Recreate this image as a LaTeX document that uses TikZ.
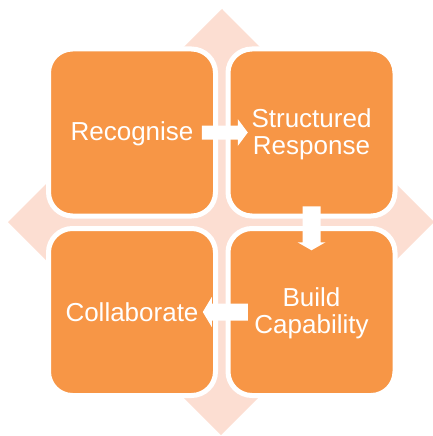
\documentclass[tikz,border=0pt]{standalone}
\usepackage{fontspec}
\setmainfont{Liberation Sans}
\usetikzlibrary{calc}
\definecolor{boxorange}{RGB}{247,150,70}
\definecolor{diamondpink}{RGB}{252,222,210}
\begin{document}
\begin{tikzpicture}[x=1pt,y=-1pt,
  quad/.style={draw=white, line width=5pt, fill=boxorange, rounded corners=24pt,
    minimum size=167pt, inner sep=0pt, text=white, align=center,
    font=\fontsize{26}{27}\selectfont},
  blockarrow/.style={fill=white}]
\useasboundingbox (0,0) rectangle (433,436);
\fill[diamondpink] (222,9) -- (434,222) -- (221,435) -- (8,222) -- cycle;
\node[quad] (rec) at (132,132.5) {\rule{0pt}{21pt}Recognise};
\node[quad] (str) at (311.5,132.5) {\rule{0pt}{23pt}Structured\\Response};
\node[quad] (bld) at (311.5,312) {\rule{0pt}{22pt}Build\\Capability};
\node[quad] (col) at (132,312) {Collaborate};
\coordinate (a1) at ($(rec.center)!0.5!(str.center)$);
\coordinate (a2) at ($(str.center)!0.5!(bld.center)$);
\coordinate (a3) at ($(bld.center)!0.5!(col.center)$);
\fill[blockarrow] ($(a1)+(-20,-7)$) -- ($(a1)+(16,-7)$) -- ($(a1)+(16,-13.5)$) -- ($(a1)+(26,0)$)
  -- ($(a1)+(16,13.5)$) -- ($(a1)+(16,7)$) -- ($(a1)+(-20,7)$) -- cycle;
\fill[blockarrow] ($(a2)+(-9,-16)$) -- ($(a2)+(-9,20)$) -- ($(a2)+(-14,20)$) -- ($(a2)+(0,28)$)
  -- ($(a2)+(14,20)$) -- ($(a2)+(9,20)$) -- ($(a2)+(9,-16)$) -- cycle;
\fill[blockarrow] ($(a3)+(26,-8.5)$) -- ($(a3)+(-10,-8.5)$) -- ($(a3)+(-10,-15)$) -- ($(a3)+(-19,0)$)
  -- ($(a3)+(-10,15)$) -- ($(a3)+(-10,8.5)$) -- ($(a3)+(26,8.5)$) -- cycle;
\end{tikzpicture}
\end{document}
